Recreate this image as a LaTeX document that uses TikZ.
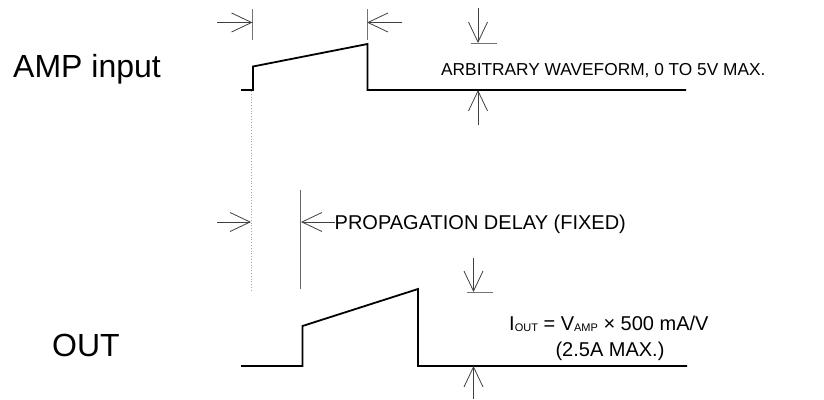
\documentclass[tikz,border=0pt]{standalone}
\usepackage{fontspec}
\setmainfont{Liberation Sans}
\usetikzlibrary{arrows.meta}

\begin{document}
\begin{tikzpicture}[x=1pt, y=-1pt, font=\fontsize{20}{24}\selectfont,
	wave/.style={line width=1.8pt, line join=miter},
	dimline/.style={line width=0.8pt, black!75, -{Straight Barb[length=20pt, width=19pt, line width=0.8pt]}},
	tick/.style={line width=0.9pt, black!55},
	note/.style={anchor=base west, inner sep=0pt},
	big/.style={font=\fontsize{32}{38}\selectfont, inner sep=0pt}]
	\useasboundingbox (0,0) rectangle (824,399);
	
	% AMP input waveform
	\coordinate (A0) at (241,90);
	\coordinate (A1) at (253,90);
	\coordinate (A2) at (253,66.5);
	\coordinate (A3) at (367.5,44);
	\coordinate (A4) at (367.5,90);
	\coordinate (A5) at (686,90);
	\draw[wave] (A0)--(A1)--(A2)--(A3)--(A4)--(A5);
	
	% OUT waveform
	\coordinate (B0) at (241,366);
	\coordinate (B1) at (302.5,366);
	\coordinate (B2) at (302.5,326);
	\coordinate (B3) at (418,289);
	\coordinate (B4) at (418,366);
	\coordinate (B5) at (687,366);
	\draw[wave] (B0)--(B1)--(B2)--(B3)--(B4)--(B5);
	
	% pulse width markers
	\draw[tick] (252.5,9)--(252.5,40);
	\draw[tick] (367,9)--(367,40);
	\coordinate (W1) at (252.5,22.5);
	\coordinate (W2) at (367,22.5);
	\draw[dimline] (217,22.5)--(W1);
	\draw[dimline] (402,22.5)--(W2);
	
	% amplitude markers
	\coordinate (H1) at (478,43);
	\draw[tick] (470.5,43)--(497,43);
	\draw[dimline] (478,8)--(H1);
	\draw[dimline] (478,125)--(478,90);
	\node[note, font=\fontsize{17.3}{20}\selectfont] (arb) at (441,75) {ARBITRARY WAVEFORM, 0 TO 5V MAX.};
	
	% propagation delay
	\draw[black!35, line width=0.8pt, dotted] (251,91)--(251,291);
	\draw[black!60, line width=1pt] (300.5,190)--(300.5,289);
	\coordinate (P1) at (251,222);
	\coordinate (P2) at (301,222);
	\draw[dimline] (217,222)--(P1);
	\draw[dimline] (335,222)--(P2);
	\node[note] (prop) at (334.5,229) {PROPAGATION DELAY (FIXED)};
	
	% output amplitude
	\coordinate (H2) at (473.5,292);
	\draw[tick] (467,292)--(493,292);
	\draw[dimline] (473.5,258)--(H2);
	\draw[dimline] (473.5,399)--(473.5,366);
	\node[note] (iout) at (509,330)
		{I\raisebox{-0.1ex}{\fontsize{11}{12}\selectfont OUT} = V\raisebox{-0.1ex}{\fontsize{11}{12}\selectfont AMP} × 500 mA/V};
	\node[anchor=base, inner sep=0pt] (imax) at (610,356) {(2.5A MAX.)};
	
	% labels
	\node[big, anchor=base west] (amp) at (13,77) {AMP input};
	\node[big, anchor=base west] (out) at (52,356) {OUT};
\end{tikzpicture}
\end{document}
